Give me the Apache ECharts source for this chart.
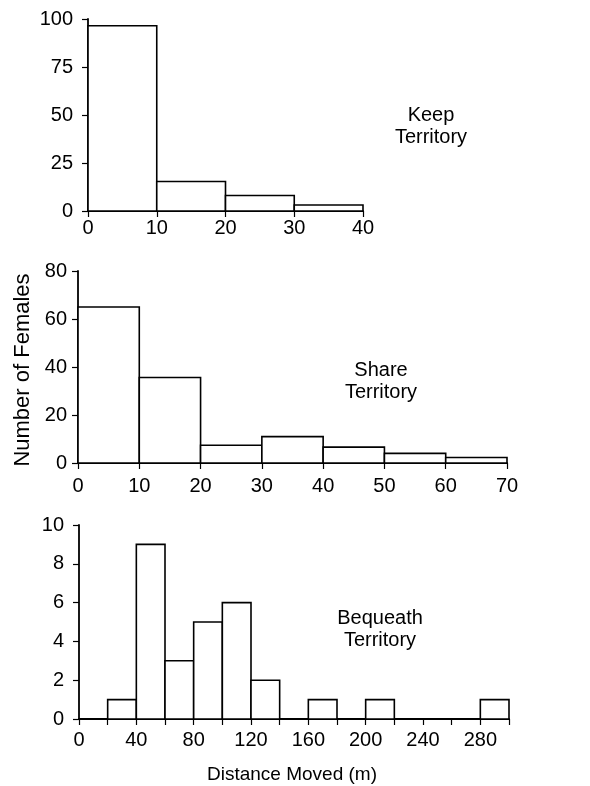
<!DOCTYPE html>
<html>
<head>
<meta charset="utf-8">
<script src="https://cdn.jsdelivr.net/npm/echarts@6/dist/echarts.min.js"></script>
<style>
  html, body { margin: 0; padding: 0; background: #fff; }
  #chart { width: 590px; height: 786px; }
</style>
</head>
<body>
<div id="chart"></div>
<script>
// bin edges and counts
var keepEdges = [0, 10, 20, 30, 40];
var keepCounts = [96.5, 15.4, 8.1, 3.1];

var shareEdges = [0, 10, 20, 30, 40, 50, 60, 70];
var shareCounts = [65, 35.6, 7.4, 11, 6.6, 4, 2.3];

var bequeathEdges = [20, 40, 60, 80, 100, 120, 140, 160, 180, 200, 220, 280, 300];
var bequeathCounts = [1, 9, 3, 5, 6, 2, 0, 1, 0, 1, 0, 1];

var panelLabels = ['Keep\nTerritory', 'Share\nTerritory', 'Bequeath\nTerritory'];
var yTitle = 'Number of Females';
var xTitle = 'Distance Moved (m)';

var FONT = '"Liberation Sans", Arial, Helvetica, sans-serif';

function toBins(edges, counts) {
    var out = [];
    for (var i = 0; i < counts.length; i++) {
        out.push([edges[i], edges[i + 1], counts[i]]);
    }
    return out;
}

// draw one histogram bar as an outlined rect
function renderBin(params, api) {
    var h = api.value(2);
    if (!h) return null;
    var p0 = api.coord([api.value(0), h]);
    var p1 = api.coord([api.value(1), 0]);
    return {
        type: 'rect',
        shape: { x: p0[0], y: p0[1], width: p1[0] - p0[0], height: p1[1] - p0[1] },
        style: { fill: '#fff', stroke: '#000', lineWidth: 1.6 }
    };
}

var axisLine = { show: true, onZero: false, lineStyle: { color: '#000', width: 1.8 } };
var axisTick = { show: true, inside: false, length: 6, lineStyle: { color: '#000', width: 1.2 } };

function xAxis(idx, max, interval, margin, fmt) {
    return {
        gridIndex: idx, type: 'value', min: 0, max: max, interval: interval,
        axisLine: axisLine, axisTick: axisTick, splitLine: { show: false },
        axisLabel: { color: '#000', fontSize: 20, fontFamily: FONT, margin: margin, formatter: fmt }
    };
}
function yAxis(idx, max, interval, margin) {
    return {
        gridIndex: idx, type: 'value', min: 0, max: max, interval: interval,
        axisLine: axisLine, axisTick: axisTick, splitLine: { show: false },
        axisLabel: { color: '#000', fontSize: 20, fontFamily: FONT, margin: margin }
    };
}
function panelText(txt, x, y) {
    return {
        type: 'text', x: x, y: y,
        style: {
            text: txt, fill: '#000', font: '20px ' + FONT,
            align: 'center', verticalAlign: 'middle', lineHeight: 22
        }
    };
}

var myChart = echarts.init(document.getElementById('chart'));
var option = {
    backgroundColor: '#fff',
    animation: false,
    grid: [
        { left: 88, right: 227, top: 19, height: 192 },
        { left: 78, right: 83, top: 271, height: 192 },
        { left: 79, right: 81, top: 525, height: 194 }
    ],
    xAxis: [
        xAxis(0, 40, 10, 7),
        xAxis(1, 70, 10, 13),
        xAxis(2, 300, 20, 11, function (v) {
            return (v % 40 === 0 && v < 300) ? v : '';
        })
    ],
    yAxis: [
        yAxis(0, 100, 25, 15),
        yAxis(1, 80, 20, 11),
        yAxis(2, 10, 2, 15)
    ],
    series: [
        { type: 'custom', xAxisIndex: 0, yAxisIndex: 0, renderItem: renderBin,
          encode: { x: [0, 1], y: 2 }, data: toBins(keepEdges, keepCounts) },
        { type: 'custom', xAxisIndex: 1, yAxisIndex: 1, renderItem: renderBin,
          encode: { x: [0, 1], y: 2 }, data: toBins(shareEdges, shareCounts) },
        { type: 'custom', xAxisIndex: 2, yAxisIndex: 2, renderItem: renderBin,
          encode: { x: [0, 1], y: 2 }, data: toBins(bequeathEdges, bequeathCounts) }
    ],
    graphic: [
        panelText(panelLabels[0], 431, 126),
        panelText(panelLabels[1], 381, 381),
        panelText(panelLabels[2], 380, 629),
        {
            type: 'text', x: 23, y: 370, rotation: Math.PI / 2,
            style: { text: yTitle, fill: '#000', font: '22px ' + FONT, align: 'center', verticalAlign: 'middle' }
        },
        {
            type: 'text', x: 292, y: 775,
            style: { text: xTitle, fill: '#000', font: '19px ' + FONT, align: 'center', verticalAlign: 'middle' }
        }
    ]
};
myChart.setOption(option);
</script>
</body>
</html>
